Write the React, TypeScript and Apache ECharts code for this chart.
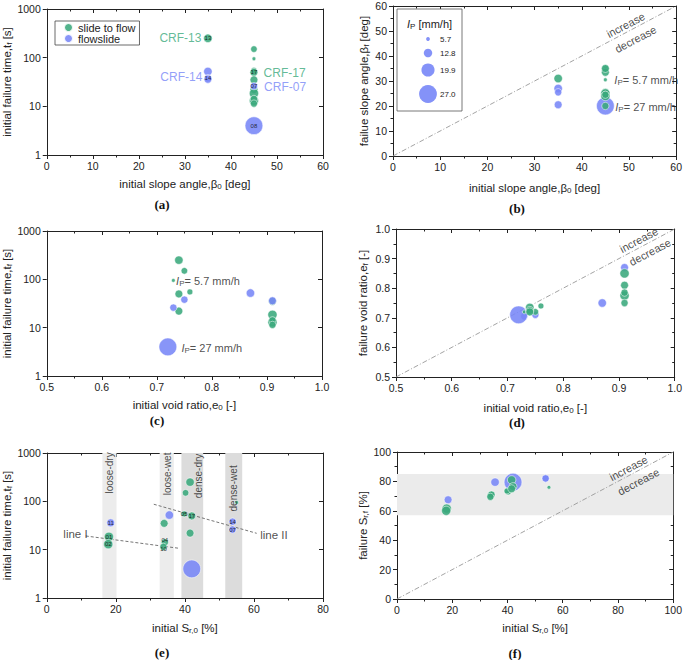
import React, { useEffect, useRef } from 'react';
import * as echarts from 'echarts';

const GREEN = '#3aa97c';
const BLUE = '#7786f7';

// one entry per test
const testType = ['stf', 'stf', 'stf', 'stf', 'fs', 'fs', 'stf', 'stf', 'fs', 'stf', 'stf', 'stf', 'stf', 'stf', 'fs', 'fs'];
const ip = [12.8, 10, 5.7, 9, 12.8, 11, 12, 12, 11, 12, 14, 14, 11, 11, 12, 27];
const beta0 = [35, 45, 45, 45, 35, 35, 45, 45, 45, 45, 45, 45, 45, 45, 35, 45];
const tf = [250, 150, 95, 55, 52, 38, 50, 35, 26, 22, 18.5, 13, 14.2, 11.4, 36, 4];
const betaF = [31, 35, 30.5, 34.5, 27, 25.5, 33.5, 25.5, 23.5, 35, 25, 24, 24.5, 20, 20.5, 20];
const e0 = [0.74, 0.75, 0.73, 0.76, 0.87, 0.75, 0.74, 0.91, 0.73, 0.74, 0.91, 0.91, 0.91, 0.91, 0.91, 0.72];
const eF = [0.735, 0.72, 0.72, 0.74, 0.75, 0.71, 0.725, 0.81, 0.705, 0.72, 0.85, 0.775, 0.785, 0.75, 0.87, 0.71];
const sr0 = [41.5, 40.2, 55, 39.8, 35.5, 53.8, 42, 34, 53.8, 41.5, 18, 17.8, 34.2, 33.8, 18.5, 42];
const srF = [81, 73, 76, 73.5, 79.5, 82, 76.5, 70.5, 82, 75, 61.5, 60, 71, 69.5, 67.5, 79.5];
const labelA = ['13', '', '', '', '', '14', '17', '', '07', '', '', '', '', '', '', '08'];
const labelE = ['', '', '', '05', '', '14', '17', '', '07', '', '01', '02', '04', '10', '11', ''];

const ipLegend = [5.7, 12.8, 19.9, 27.0];
const diagB = [[0, 0], [60, 60]];
const diagD = [[0.5, 0.5], [1.0, 1.0]];
const diagF = [[0, 0], [100, 100]];
const lineI = [[11.3, 19.2], [38.2, 10.7]];
const lineII = [[31, 87], [60.8, 21.8]];
const bandsE = [
  { name: 'loose-dry', from: 16.1, to: 20.2, dense: false },
  { name: 'loose-wet', from: 32.7, to: 36.8, dense: false },
  { name: 'dense-dry', from: 39.0, to: 45.3, dense: true },
  { name: 'dense-wet', from: 51.7, to: 56.6, dense: true },
];
const bandF = [57, 85];

const K = 0.66;
const INK = '#222';
const FONT = 'Liberation Sans, Arial, sans-serif';

const RICH: any = {
  n: { fontSize: 11.5, color: INK, fontFamily: FONT },
  s: { fontSize: 8, color: INK, fontFamily: FONT, padding: [5, 0, 0, 0] },
  i: { fontSize: 11, color: INK, fontStyle: 'italic', fontFamily: FONT },
  p: { fontSize: 8, color: INK, fontFamily: FONT, padding: [5, 0, 0, 0] },
  t: { fontSize: 11, color: INK, fontFamily: FONT },
};

const GRIDS = [
  { left: 46, top: 9, width: 277, height: 146 },
  { left: 393, top: 6, width: 286, height: 150 },
  { left: 46, top: 231, width: 276, height: 145 },
  { left: 396, top: 229, width: 282, height: 148 },
  { left: 46, top: 453, width: 277, height: 145 },
  { left: 397, top: 452, width: 280, height: 147 },
];

function xAxes(gi: number, min: number, max: number, interval: number, name: string, gap: number, fmt?: (v: number) => string) {
  const line = { onZero: false, lineStyle: { color: INK, width: 1 } };
  return [
    {
      type: 'value', gridIndex: gi, min, max, interval, position: 'bottom',
      name, nameLocation: 'middle', nameGap: gap,
      nameTextStyle: { rich: RICH },
      axisLine: line,
      axisTick: { length: 4, lineStyle: { color: INK } },
      minorTick: { show: true, splitNumber: 2, length: 2.5, lineStyle: { color: INK } },
      axisLabel: { fontSize: 10.5, color: INK, margin: 5, fontFamily: FONT, formatter: fmt },
      splitLine: { show: false },
    },
    {
      type: 'value', gridIndex: gi, min, max, interval, position: 'top',
      axisLine: line,
      axisTick: { inside: true, length: 4, lineStyle: { color: INK } },
      minorTick: { show: true, splitNumber: 2, length: 2.5, lineStyle: { color: INK } },
      axisLabel: { show: false },
      splitLine: { show: false },
    },
  ];
}

function yAxes(gi: number, log: boolean, min: number, max: number, interval: number, name: string, gap: number, fmt?: (v: number) => string) {
  const line = { onZero: false, lineStyle: { color: INK, width: 1 } };
  const base: any = log ? { type: 'log', logBase: 10, min, max } : { type: 'value', min, max, interval };
  const minor = { show: !log, splitNumber: 2, length: 2.5, lineStyle: { color: INK } };
  const formatter = log ? (v: number) => String(Math.round(v)) : fmt;
  return [
    {
      ...base, gridIndex: gi, position: 'left',
      name, nameLocation: 'middle', nameGap: gap, nameRotate: 90,
      nameTextStyle: { rich: RICH },
      axisLine: line,
      axisTick: { length: 4, lineStyle: { color: INK } },
      minorTick: minor,
      axisLabel: { fontSize: 10.5, color: INK, margin: 6, fontFamily: FONT, formatter },
      splitLine: { show: false },
    },
    {
      ...base, gridIndex: gi, position: 'right',
      axisLine: line,
      axisTick: { inside: true, length: 4, lineStyle: { color: INK } },
      minorTick: minor,
      axisLabel: { show: false },
      splitLine: { show: false },
    },
  ];
}

// small nudges for bubble labels that would otherwise sit on top of each other
const LABEL_NUDGE: Record<string, number[]> = { '04': [0, -2.5], '10': [0, 2.5] };

function bubbles(gi: number, xs: number[], ys: number[], labels: string[] | null, kind: string, z: number) {
  const data: any[] = [];
  for (let i = 0; i < testType.length; i++) {
    if (testType[i] !== kind) continue;
    const lab = labels ? labels[i] : '';
    const item: any = { value: [xs[i], ys[i], ip[i], lab] };
    if (lab && LABEL_NUDGE[lab]) item.label = { offset: LABEL_NUDGE[lab] };
    data.push(item);
  }
  return {
    type: 'scatter',
    name: kind === 'stf' ? 'slide to flow' : 'flowslide',
    xAxisIndex: 2 * gi, yAxisIndex: 2 * gi,
    data, z,
    symbolSize: (v: any) => v[2] * K,
    itemStyle: { color: kind === 'stf' ? GREEN : BLUE, opacity: 0.88, borderColor: '#fff', borderWidth: 0.6 },
    label: {
      show: !!labels, position: 'inside', fontSize: 6, color: '#111', fontFamily: FONT,
      formatter: (p: any) => p.value[3],
    },
  };
}

function notes(gi: number, items: any[]) {
  return {
    type: 'scatter', xAxisIndex: 2 * gi, yAxisIndex: 2 * gi, symbolSize: 0, silent: true, z: 30,
    data: items.map((it) => ({
      value: [it.x, it.y],
      label: {
        show: true, formatter: it.t, position: it.pos || 'inside', distance: 0,
        rotate: it.rot || 0, color: it.c || INK, fontSize: it.fs || 11, fontFamily: FONT, rich: RICH,
      },
    })),
  };
}

function dashLine(gi: number, data: number[][], color: string, type: any, extra: any = {}) {
  return {
    type: 'line', xAxisIndex: 2 * gi, yAxisIndex: 2 * gi, data, symbol: 'none', silent: true, z: 3,
    lineStyle: { color, width: 0.9, type },
    ...extra,
  };
}

const ROT = 27.7;
const IP57 = '{i|I}{p|P}{t|= 5.7 mm/h}';
const IP27 = '{i|I}{p|P}{t|= 27 mm/h}';

function buildOption(): any {
  const f1 = (v: number) => v.toFixed(1);
  const xAxis = [
    ...xAxes(0, 0, 60, 10, '{n|initial slope angle,β}{s|0}{n| [deg]}', 22),
    ...xAxes(1, 0, 60, 10, '{n|initial slope angle,β}{s|0}{n| [deg]}', 25),
    ...xAxes(2, 0.5, 1.0, 0.1, '{n|initial void ratio,e}{s|0}{n| [-]}', 22, f1),
    ...xAxes(3, 0.5, 1.0, 0.1, '{n|initial void ratio,e}{s|0}{n| [-]}', 24, f1),
    ...xAxes(4, 0, 80, 20, '{n|initial S}{s|r,0}{n| [%]}', 23),
    ...xAxes(5, 0, 100, 20, '{n|initial S}{s|r,0}{n| [%]}', 22),
  ];
  const yAxis = [
    ...yAxes(0, true, 1, 1000, 0, '{n|initial failure time,t}{s|f}{n| [s]}', 31),
    ...yAxes(1, false, 0, 60, 10, '{n|failue slope angle,β}{s|f}{n| [deg]}', 23),
    ...yAxes(2, true, 1, 1000, 0, '{n|initial failure time,t}{s|f}{n| [s]}', 31),
    ...yAxes(3, false, 0.5, 1.0, 0.1, '{n|failure void ratio,e}{s|f}{n| [-]}', 27, f1),
    ...yAxes(4, true, 1, 1000, 0, '{n|initial failure time,t}{s|f}{n| [s]}', 31),
    ...yAxes(5, false, 0, 100, 20, '{n|failure S}{s|r,f}{n| [%]}', 28),
  ];

  const series: any[] = [
    // (a)
    bubbles(0, beta0, tf, labelA, 'stf', 10),
    bubbles(0, beta0, tf, labelA, 'fs', 11),
    notes(0, [
      { t: 'CRF-13', x: 33.6, y: 250, pos: 'left', c: GREEN, fs: 12 },
      { t: 'CRF-14', x: 33.8, y: 40.6, pos: 'left', c: BLUE, fs: 12 },
      { t: 'CRF-17', x: 47.1, y: 49, pos: 'right', c: GREEN, fs: 12 },
      { t: 'CRF-07', x: 47.2, y: 25.3, pos: 'right', c: BLUE, fs: 12 },
    ]),
    // (b)
    dashLine(1, diagB, '#999', [5, 2, 1, 2]),
    bubbles(1, beta0, betaF, null, 'fs', 10),
    bubbles(1, beta0, betaF, null, 'stf', 11),
    notes(1, [
      { t: IP57, x: 46.9, y: 30.4, pos: 'right' },
      { t: IP27, x: 47.1, y: 19.5, pos: 'right' },
      { t: 'increase', x: 49.3, y: 52.4, rot: ROT },
      { t: 'decrease', x: 51.4, y: 46.7, rot: ROT },
    ]),
    // (c)
    bubbles(2, e0, tf, null, 'stf', 10),
    bubbles(2, e0, tf, null, 'fs', 11),
    notes(2, [
      { t: IP57, x: 0.735, y: 92, pos: 'right' },
      { t: IP27, x: 0.7446, y: 3.85, pos: 'right' },
    ]),
    // (d)
    dashLine(3, diagD, '#999', [5, 2, 1, 2]),
    bubbles(3, e0, eF, null, 'fs', 10),
    bubbles(3, e0, eF, null, 'stf', 11),
    notes(3, [
      { t: 'increase', x: 0.9356, y: 0.963, rot: ROT },
      { t: 'decrease', x: 0.9557, y: 0.922, rot: ROT },
    ]),
    // (e)
    dashLine(4, lineI, '#666', [3, 2], {
      markArea: {
        silent: true,
        data: bandsE.map((b) => [
          { xAxis: b.from, itemStyle: { color: b.dense ? '#dcdcdc' : '#ececec' } },
          { xAxis: b.to },
        ]),
      },
    }),
    dashLine(4, lineII, '#666', [3, 2]),
    bubbles(4, sr0, tf, labelE, 'stf', 10),
    bubbles(4, sr0, tf, labelE, 'fs', 11),
    notes(4, [
      { t: bandsE[0].name, x: 18.2, y: 387, rot: 90, fs: 10 },
      { t: bandsE[1].name, x: 34.9, y: 369, rot: 90, fs: 10 },
      { t: bandsE[2].name, x: 43.9, y: 336, rot: 90, fs: 10 },
      { t: bandsE[3].name, x: 54.0, y: 185, rot: 90, fs: 10 },
      { t: 'line I', x: 4.8, y: 21.5, pos: 'right', fs: 11.5 },
      { t: 'line II', x: 61.8, y: 20.5, pos: 'right', fs: 11.5 },
    ]),
    // (f)
    dashLine(5, diagF, '#999', [5, 2, 1, 2], {
      markArea: {
        silent: true,
        itemStyle: { color: '#ebebeb' },
        data: [[{ yAxis: bandF[0] }, { yAxis: bandF[1] }]],
      },
    }),
    bubbles(5, sr0, srF, null, 'fs', 10),
    bubbles(5, sr0, srF, null, 'stf', 11),
    notes(5, [
      { t: 'increase', x: 83.8, y: 89, rot: ROT },
      { t: 'decrease', x: 87.4, y: 79.8, rot: ROT },
    ]),
  ];

  const panelTitles = [
    { t: '(a)', x: 162, y: 204 },
    { t: '(b)', x: 517, y: 208 },
    { t: '(c)', x: 157, y: 420 },
    { t: '(d)', x: 517, y: 422 },
    { t: '(e)', x: 162, y: 652 },
    { t: '(f)', x: 515, y: 653 },
  ];

  const legendY = [39, 53, 70, 94];
  const graphic: any[] = [
    ...panelTitles.map((p) => ({
      type: 'text', x: p.x, y: p.y, z: 50,
      style: {
        text: p.t, fontFamily: 'Liberation Serif, Times New Roman, serif', fontWeight: 'bold', fontSize: 13,
        fill: '#111', textAlign: 'center', textVerticalAlign: 'middle',
      },
    })),
    {
      type: 'rect', shape: { x: 397, y: 9, width: 65, height: 102 }, z: 40,
      style: { fill: '#fff', stroke: '#555', lineWidth: 0.8 },
    },
    {
      type: 'text', x: 407, y: 24, z: 41,
      style: {
        text: '{i|I}{p|P}{t| [mm/h]}', rich: RICH, textVerticalAlign: 'middle', fill: INK,
      },
    },
    ...ipLegend.map((v, i) => ({
      type: 'circle', z: 41, shape: { cx: 428, cy: legendY[i], r: (v * K) / 2 },
      style: { fill: BLUE, opacity: 0.9 },
    })),
    ...ipLegend.map((v, i) => ({
      type: 'text', z: 41, x: 440, y: legendY[i],
      style: { text: v.toFixed(1), fontSize: 8, fontFamily: FONT, fill: INK, textVerticalAlign: 'middle' },
    })),
  ];

  return {
    animation: false,
    backgroundColor: '#fff',
    textStyle: { fontFamily: FONT },
    grid: GRIDS.map((g) => ({ ...g, containLabel: false })),
    xAxis, yAxis, series, graphic,
    legend: {
      data: ['slide to flow', 'flowslide'],
      left: 55, top: 21, orient: 'vertical', icon: 'circle',
      itemWidth: 9, itemHeight: 9, itemGap: 0, padding: [1, 4, 1, 8],
      borderColor: '#444', borderWidth: 0.8, selectedMode: false,
      textStyle: { fontSize: 11, color: INK, fontFamily: FONT },
    },
  };
}

export default function App() {
  const ref = useRef<HTMLDivElement>(null);
  useEffect(() => {
    const chart = echarts.init(ref.current!, null, { renderer: 'svg' });
    chart.setOption(buildOption());
    return () => chart.dispose();
  }, []);
  return (
    <div
      ref={ref}
      style={{ position: 'fixed', left: 0, top: 0, width: 685, height: 660, background: '#fff' }}
    />
  );
}
